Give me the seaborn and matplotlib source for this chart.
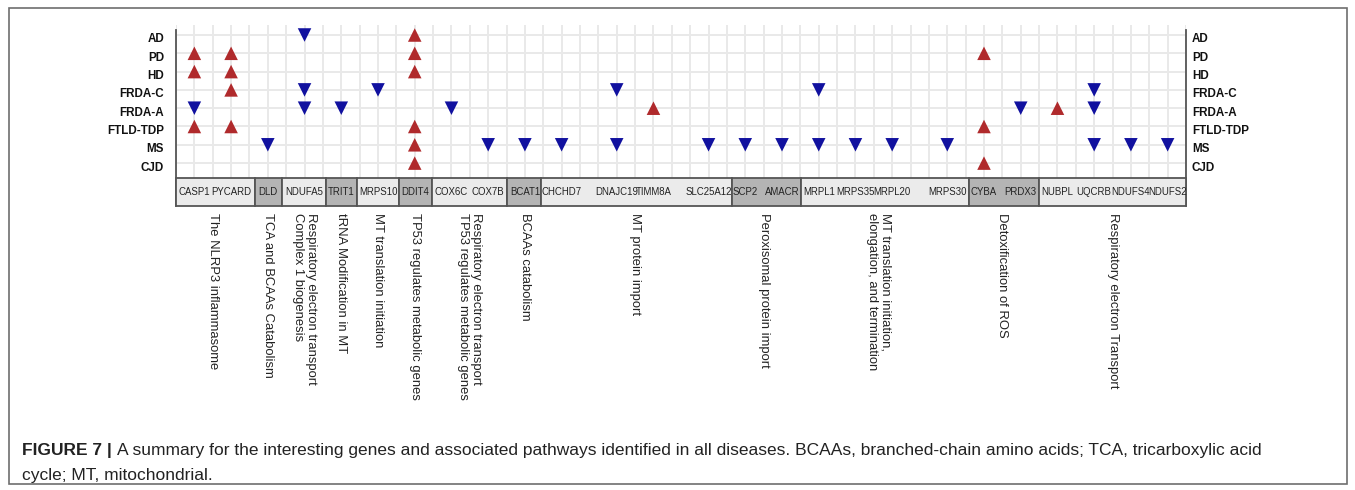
import matplotlib
matplotlib.use("Agg")
import matplotlib.pyplot as plt
from matplotlib import font_manager
from matplotlib.patches import Rectangle
from matplotlib.transforms import ScaledTranslation, blended_transform_factory
import pandas as pd
import seaborn as sns

# ---------------------------------------------------------------- data
diseases = ["AD", "PD", "HD", "FRDA-C", "FRDA-A", "FTLD-TDP", "MS", "CJD"]

pathways = [
    "The NLRP3 inflammasome",
    "TCA and BCAAs Catabolism",
    "Respiratory electron transport\nComplex 1 biogenesis",
    "tRNA Modification in MT",
    "MT translation initiation",
    "TP53 regulates metabolic genes",
    "Respiratory electron transport\nTP53 regulates metabolic genes",
    "BCAAs catabolism",
    "MT protein import",
    "Peroxisomal protein import",
    "MT translation initiation,\nelongation, and termination",
    "Detoxification of ROS",
    "Respiratory electron Transport",
]
pathway_genes = [
    ["CASP1", "PYCARD"],
    ["DLD"],
    ["NDUFA5"],
    ["TRIT1"],
    ["MRPS10"],
    ["DDIT4"],
    ["COX6C", "COX7B"],
    ["BCAT1"],
    ["CHCHD7", "DNAJC19", "TIMM8A", "SLC25A12"],
    ["SCP2", "AMACR"],
    ["MRPL1", "MRPS35", "MRPL20", "MRPS30"],
    ["CYBA", "PRDX3"],
    ["NUBPL", "UQCRB", "NDUFS4", "NDUFS2"],
]

up_regulated = {
    "CASP1": ["PD", "HD", "FTLD-TDP"],
    "PYCARD": ["PD", "HD", "FRDA-C", "FTLD-TDP"],
    "DDIT4": ["AD", "PD", "HD", "FTLD-TDP", "MS", "CJD"],
    "TIMM8A": ["FRDA-A"],
    "CYBA": ["PD", "FTLD-TDP", "CJD"],
    "NUBPL": ["FRDA-A"],
}
down_regulated = {
    "CASP1": ["FRDA-A"],
    "DLD": ["MS"],
    "NDUFA5": ["AD", "FRDA-C", "FRDA-A"],
    "TRIT1": ["FRDA-A"],
    "MRPS10": ["FRDA-C"],
    "COX6C": ["FRDA-A"],
    "COX7B": ["MS"],
    "BCAT1": ["MS"],
    "CHCHD7": ["MS"],
    "DNAJC19": ["FRDA-C", "MS"],
    "SLC25A12": ["MS"],
    "SCP2": ["MS"],
    "AMACR": ["MS"],
    "MRPL1": ["FRDA-C", "MS"],
    "MRPS35": ["MS"],
    "MRPL20": ["MS"],
    "MRPS30": ["MS"],
    "PRDX3": ["FRDA-A"],
    "UQCRB": ["FRDA-C", "FRDA-A", "MS"],
    "NDUFS4": ["MS"],
    "NDUFS2": ["MS"],
}

# ---------------------------------------------------------------- layout
# every gene takes two grid cells; a few long names get one extra cell
extra_room_after = {"CHCHD7", "TIMM8A", "MRPL20"}
genes = [g for group in pathway_genes for g in group]
gene_x, cursor = {}, 1
for g in genes:
    gene_x[g] = cursor
    cursor += 3 if g in extra_room_after else 2
x_max = cursor - 1
row_of = {d: i for i, d in enumerate(diseases)}

records = []
for direction, table in (("up", up_regulated), ("down", down_regulated)):
    for gene, hits in table.items():
        for d in hits:
            records.append({"gene": gene, "disease": d, "direction": direction,
                            "x": gene_x[gene], "row": row_of[d]})
df = pd.DataFrame(records)

# ---------------------------------------------------------------- style
sns.set_style("white")
available = {f.name for f in font_manager.fontManager.ttflist}
base_font = ["Liberation Sans", "DejaVu Sans"]
plt.rcParams["font.family"] = base_font
narrow = next((n for n in ["Liberation Sans Narrow", "DejaVu Sans Condensed"]
               if n in available), None)
gene_font = [narrow] if narrow else base_font
gene_size = 8.0 if narrow else 6.9

RED = "#b02a2c"
BLUE = "#11119f"
W, H = 1355, 490
fig = plt.figure(figsize=(W / 100, H / 100), dpi=100)

ax_left, ax_right, ax_top, ax_bottom = 176, 1186, 25, 206
ax = fig.add_axes([ax_left / W, 1 - ax_bottom / H,
                   (ax_right - ax_left) / W, (ax_bottom - ax_top) / H])

row_px = 18.3
first_row_px = 35
box_top_px, box_bot_px = 178, 206
to_y = lambda px: (px - first_row_px) / row_px
y_top, y_bottom = to_y(ax_top), to_y(ax_bottom)
box_top, box_bot = to_y(box_top_px), to_y(box_bot_px)

ax.set_xlim(0, x_max)
ax.set_ylim(y_bottom, y_top)

sns.scatterplot(data=df, x="x", y="row", hue="direction", style="direction",
                markers={"up": "^", "down": "v"},
                palette={"up": RED, "down": BLUE},
                s=95, linewidth=0, legend=False, ax=ax, zorder=4)

# light square grid
ax.set_xticks(range(0, x_max + 1))
ax.set_yticks(range(len(diseases)))
ax.set_xticklabels([])
ax.set_yticklabels([])
ax.tick_params(length=0)
ax.grid(True, color="#e9e9e9", linewidth=1.4)
ax.set_axisbelow(True)
ax.set_xlabel("")
ax.set_ylabel("")

for side in ("top", "bottom"):
    ax.spines[side].set_visible(False)
for side in ("left", "right"):
    ax.spines[side].set_color("#555555")
    ax.spines[side].set_linewidth(1.3)
    ax.spines[side].set_bounds(y_bottom, to_y(30))

# disease labels on both sides
lab_l = blended_transform_factory(ax.transAxes, ax.transData) + \
    ScaledTranslation(-0.12, -0.045, fig.dpi_scale_trans)
lab_r = blended_transform_factory(ax.transAxes, ax.transData) + \
    ScaledTranslation(0.06, -0.045, fig.dpi_scale_trans)
for d in diseases:
    ax.text(0, row_of[d], d, transform=lab_l, ha="right", va="center",
            fontsize=8.4, fontweight="bold", color="#111111")
    ax.text(1, row_of[d], d, transform=lab_r, ha="left", va="center",
            fontsize=8.4, fontweight="bold", color="#111111")

# gene names inside the pathway strip
box_mid = (box_top + box_bot) / 2
gene_texts = {}
for g in genes:
    gene_texts[g] = ax.text(gene_x[g], box_mid, g, ha="center", va="center",
                            fontsize=gene_size, family=gene_font,
                            color="#222222", zorder=6, clip_on=False)

fig.canvas.draw()
renderer = fig.canvas.get_renderer()
inv = ax.transData.inverted()
spans = []
for group in pathway_genes:
    lefts, rights = [], []
    for g in group:
        bb = gene_texts[g].get_window_extent(renderer)
        (x0, _), (x1, _) = inv.transform([(bb.x0, bb.y0), (bb.x1, bb.y1)])
        lefts.append(x0)
        rights.append(x1)
    spans.append((min(lefts), max(rights)))

edges = [0]
for (_, r), (l, _) in zip(spans[:-1], spans[1:]):
    edges.append((r + l) / 2)
edges.append(x_max)

for i, (group, label) in enumerate(zip(pathway_genes, pathways)):
    shade = "#ebebeb" if i % 2 == 0 else "#b4b4b4"
    ax.add_patch(Rectangle((edges[i], box_top), edges[i + 1] - edges[i],
                           box_bot - box_top, facecolor=shade,
                           edgecolor="#555555", linewidth=1.3, zorder=5,
                           clip_on=False))
    centre = sum(gene_x[g] for g in group) / len(group)
    ax.text(centre, to_y(213), label, rotation=270, ha="center", va="top",
            fontsize=9.4, color="#222222", linespacing=1.15, clip_on=False,
            multialignment="left")

# caption
cap_size = 12.5
cap_y1, cap_y2 = 1 - 450 / H, 1 - 475 / H
bold = fig.text(22 / W, cap_y1, "FIGURE 7 | ", fontsize=cap_size,
                fontweight="bold", va="center", color="#222222")
fig.canvas.draw()
bb = bold.get_window_extent(fig.canvas.get_renderer())
fig.text(bb.x1 / W, cap_y1,
         "A summary for the interesting genes and associated pathways "
         "identified in all diseases. BCAAs, branched-chain amino acids; "
         "TCA, tricarboxylic acid", fontsize=cap_size, va="center",
         color="#222222")
fig.text(22 / W, cap_y2, "cycle; MT, mitochondrial.", fontsize=cap_size,
         va="center", color="#222222")

# outer frame
fig.add_artist(Rectangle((9 / W, 1 - 484 / H), (1347 - 9) / W, (484 - 8) / H,
                         transform=fig.transFigure, fill=False,
                         edgecolor="#6e6e6e", linewidth=1.2))

fig.savefig("out.png", dpi=100)
